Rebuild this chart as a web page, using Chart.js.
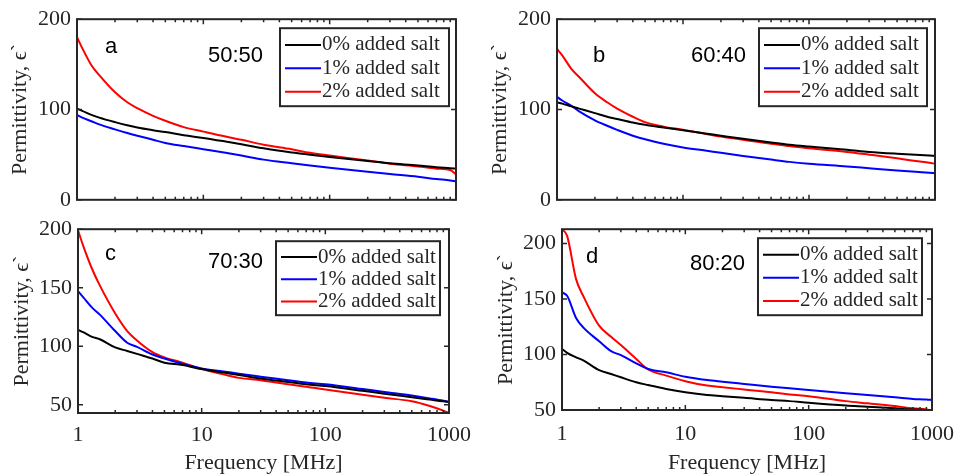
<!DOCTYPE html>
<html>
<head>
<meta charset="utf-8">
<script src="https://cdn.jsdelivr.net/npm/chart.js@4.4.1/dist/chart.umd.min.js"></script>
<style>
body { margin: 0; background: #fff; }
#wrap { position: relative; width: 965px; height: 476px; overflow: hidden; background: #fff; }
canvas { position: absolute; }
</style>
</head>
<body>
<div id="wrap">
  <canvas id="chartA" width="480" height="219" style="left:0;top:0"></canvas>
  <canvas id="chartB" width="485" height="219" style="left:480px;top:0"></canvas>
  <canvas id="chartC" width="480" height="266" style="left:0;top:210px"></canvas>
  <canvas id="chartD" width="485" height="266" style="left:480px;top:210px"></canvas>
</div>
<script>
// frequency points (MHz)
var freqMHz = [1, 1.1, 1.3, 1.5, 2, 2.5, 3, 4, 5, 7, 10, 15, 20, 30, 50, 70, 100, 200, 300, 500, 700, 900, 1000];
var xMajorTicks = [1, 10, 100, 1000];
var seriesLabels = ['0% added salt', '1% added salt', '2% added salt'];
var seriesColors = ['#000000', '#0000ff', '#ff0000'];
var panelLetters = ['a', 'b', 'c', 'd'];
var mixRatios = ['50:50', '60:40', '70:30', '80:20'];

// a) 50:50
var a0 = [101, 98.5, 94, 91, 86, 82.5, 80, 77, 75, 71.5, 68.5, 64.5, 61.5, 57, 52.5, 50, 47.5, 43, 40.5, 38, 36, 35, 34.5];
var a1 = [94, 91, 87, 83.5, 78, 74, 71, 66.5, 63, 59.5, 56, 52, 49, 44.5, 40.5, 38, 35.5, 31, 28.5, 25.5, 23, 21.5, 20.5];
var a2 = [180, 168, 149, 138, 119, 108, 101.5, 93, 87.5, 80.5, 75.5, 70, 66.5, 61, 56, 52, 49, 43.5, 40, 37, 34.5, 33, 28];
// b) 60:40
var b0 = [108, 106.5, 103.5, 101, 96, 92, 89.5, 85.5, 83, 80, 77, 73.5, 71, 67.5, 63.5, 61, 59, 55.5, 53, 51, 50, 49, 48.5];
var b1 = [114, 110, 104, 98, 88, 82, 77.5, 71, 67, 62, 58, 54.5, 52, 48.5, 44.5, 42, 40, 37, 35, 32.5, 31, 30, 29.5];
var b2 = [167, 160, 145, 136, 118, 108, 101, 92, 86, 81, 77.5, 73, 70, 66.5, 62, 59.5, 57, 53, 50, 46, 43, 41, 40];
// c) 70:30
var c0 = [114, 112, 108, 106, 99, 96, 93.5, 89.5, 86, 84, 80.5, 77.5, 75.5, 72.5, 69.5, 67.5, 66, 62, 59.5, 56.5, 54.5, 53, 52.5];
var c1 = [147, 142, 133, 127, 113, 103, 99.5, 93, 89.5, 85, 81, 78.5, 76.5, 74, 71, 69, 67.5, 63.5, 61, 58, 55.5, 53.5, 52.5];
var c2 = [199, 186, 166, 152, 128, 113, 105, 95, 90.5, 86, 80.5, 76, 73, 71, 67.5, 65.5, 63, 58.5, 56, 53, 49, 45, 43];
// d) 80:20
var d0 = [105, 101.5, 97.5, 94.5, 86, 82.5, 79.5, 75, 72.5, 69, 66, 63.5, 62.5, 61, 59, 58, 56.5, 54, 53, 51.5, 50.5, 50, 50];
var d1 = [156, 153, 133, 124, 112, 103, 99.5, 92, 87, 84, 80, 77, 75.5, 73.5, 71, 69.5, 68, 65, 63.5, 61.5, 60, 59.5, 59];
var d2 = [213, 207, 168, 152, 126, 116, 108.5, 96, 86.5, 81, 76, 72, 70.5, 68.5, 66, 64, 62.5, 58, 56, 53.5, 51.5, 50.5, 49.5];

var yTicksAB = [0, 100, 200];
var yTicksCD = [50, 100, 150, 200];

var xTickValues = [];
xMajorTicks.forEach(function (m) {
    for (var k = 1; k < 10; k++) {
        if (m * k <= 1000) xTickValues.push(m * k);
    }
});

var ink = '#262626';
var serif = '"Liberation Serif", "Times New Roman", serif';

// box, inward ticks, panel tags and legend drawn MATLAB style
var matlabFrame = {
    id: 'matlabFrame',
    afterDatasetsDraw: function (chart, args, opts) {
        var ctx = chart.ctx;
        var a = chart.chartArea;
        var xs = chart.scales.x, ys = chart.scales.y;
        ctx.save();
        ctx.strokeStyle = ink;
        ctx.lineWidth = 1.5;
        ctx.beginPath();
        xs.ticks.forEach(function (t) {
            var px = xs.getPixelForValue(t.value);
            var len = xMajorTicks.indexOf(t.value) >= 0 ? 5 : 3;
            ctx.moveTo(px, a.bottom); ctx.lineTo(px, a.bottom - len);
            ctx.moveTo(px, a.top); ctx.lineTo(px, a.top + len);
        });
        ys.ticks.forEach(function (t) {
            var py = ys.getPixelForValue(t.value);
            ctx.moveTo(a.left, py); ctx.lineTo(a.left + 5, py);
            ctx.moveTo(a.right, py); ctx.lineTo(a.right - 5, py);
        });
        ctx.stroke();
        ctx.lineWidth = 2;
        ctx.strokeRect(a.left, a.top, a.right - a.left, a.bottom - a.top);

        // panel letter and ratio
        ctx.fillStyle = '#000';
        ctx.font = '22px "Liberation Sans", Arial, sans-serif';
        ctx.textAlign = 'left';
        ctx.textBaseline = 'alphabetic';
        ctx.fillText(opts.letter, a.left + opts.letterPos[0], a.top + opts.letterPos[1]);
        ctx.fillText(opts.ratio, a.left + opts.ratioPos[0], a.top + opts.ratioPos[1]);

        // legend
        var lg = opts.legend;
        var bx = a.right - lg.right - lg.w;
        var by = a.top + lg.top;
        ctx.fillStyle = '#fff';
        ctx.fillRect(bx, by, lg.w, lg.h);
        ctx.strokeStyle = ink;
        ctx.lineWidth = 2;
        ctx.strokeRect(bx, by, lg.w, lg.h);
        ctx.font = '21px ' + serif;
        ctx.textBaseline = 'middle';
        chart.data.datasets.forEach(function (ds, i) {
            var ry = by + lg.h * (0.215 + 0.3 * i);
            ctx.strokeStyle = ds.borderColor;
            ctx.lineWidth = 2;
            ctx.beginPath();
            ctx.moveTo(bx + 5, ry);
            ctx.lineTo(bx + 41, ry);
            ctx.stroke();
            ctx.fillStyle = ink;
            ctx.fillText(ds.label, bx + 42, ry);
        });
        ctx.restore();
    }
};

function makePanel(canvasId, idx, series, yMin, yMax, yTicks, geo) {
    var datasets = series.map(function (vals, i) {
        return {
            label: seriesLabels[i],
            data: freqMHz.map(function (f, j) { return { x: f, y: vals[j] }; }),
            borderColor: seriesColors[i],
            borderWidth: 2,
            pointRadius: 0,
            cubicInterpolationMode: 'monotone',
            fill: false
        };
    });
    var config = {
        type: 'line',
        data: { datasets: datasets },
        options: {
            responsive: false,
            animation: false,
            layout: { padding: { top: geo.padTop, right: geo.padRight, left: 0, bottom: 0 } },
            plugins: {
                legend: { display: false },
                tooltip: { enabled: false },
                matlabFrame: {
                    letter: panelLetters[idx],
                    ratio: mixRatios[idx],
                    letterPos: geo.letterPos,
                    ratioPos: geo.ratioPos,
                    legend: geo.legend
                }
            },
            scales: {
                x: {
                    type: 'logarithmic',
                    min: 1,
                    max: 1000,
                    grid: { display: false, drawTicks: false },
                    border: { display: false },
                    afterBuildTicks: function (s) {
                        s.ticks = xTickValues.map(function (v) { return { value: v }; });
                    },
                    afterFit: function (s) { s.height = geo.xHeight; },
                    ticks: {
                        display: geo.showX,
                        autoSkip: false,
                        maxRotation: 0,
                        padding: geo.xTickPad,
                        color: ink,
                        font: { family: serif, size: 22 },
                        callback: function (v) {
                            return xMajorTicks.indexOf(v) >= 0 ? String(v) : '';
                        }
                    },
                    title: {
                        display: geo.showX,
                        text: 'Frequency [MHz]',
                        color: ink,
                        padding: { top: 0, bottom: 0 },
                        font: { family: serif, size: 22 }
                    }
                },
                y: {
                    min: yMin,
                    max: yMax,
                    grid: { display: false, drawTicks: false },
                    border: { display: false },
                    afterBuildTicks: function (s) {
                        s.ticks = yTicks.map(function (v) { return { value: v }; });
                    },
                    afterFit: function (s) { s.width = geo.yWidth; },
                    ticks: {
                        padding: 6,
                        color: ink,
                        font: { family: serif, size: 22 },
                        callback: function (v) { return String(v); }
                    },
                    title: {
                        display: true,
                        text: 'Permittivity, \u03f5`',
                        color: ink,
                        padding: { top: geo.titlePad, bottom: 0 },
                        font: { family: serif, size: 22 }
                    }
                }
            }
        },
        plugins: [matlabFrame]
    };
    return new Chart(document.getElementById(canvasId).getContext('2d'), config);
}

makePanel('chartA', 0, [a0, a1, a2], 0, 200, yTicksAB, {
    padTop: 16, padRight: 24, yWidth: 77, xHeight: 14, showX: false, xTickPad: 0, titlePad: 7,
    letterPos: [28, 34], ratioPos: [131, 43],
    legend: { right: 7, top: 9, w: 169, h: 78 }
});
makePanel('chartB', 1, [b0, b1, b2], 0, 200, yTicksAB, {
    padTop: 16, padRight: 30, yWidth: 77, xHeight: 14, showX: false, xTickPad: 0, titlePad: 7,
    letterPos: [36, 43], ratioPos: [134, 43],
    legend: { right: 8, top: 9, w: 168, h: 78 }
});
makePanel('chartC', 2, [c0, c1, c2], 43, 200, yTicksCD, {
    padTop: 16, padRight: 28, yWidth: 78, xHeight: 63, showX: true, xTickPad: 9, titlePad: 9,
    letterPos: [27, 31], ratioPos: [130, 39],
    legend: { right: 9, top: 12, w: 164, h: 74 }
});
makePanel('chartD', 3, [d0, d1, d2], 50, 213, yTicksCD, {
    padTop: 13, padRight: 28, yWidth: 82, xHeight: 66, showX: true, xTickPad: 11, titlePad: 13,
    letterPos: [24, 34], ratioPos: [128, 41],
    legend: { right: 10, top: 9, w: 164, h: 77 }
});
</script>
</body>
</html>
